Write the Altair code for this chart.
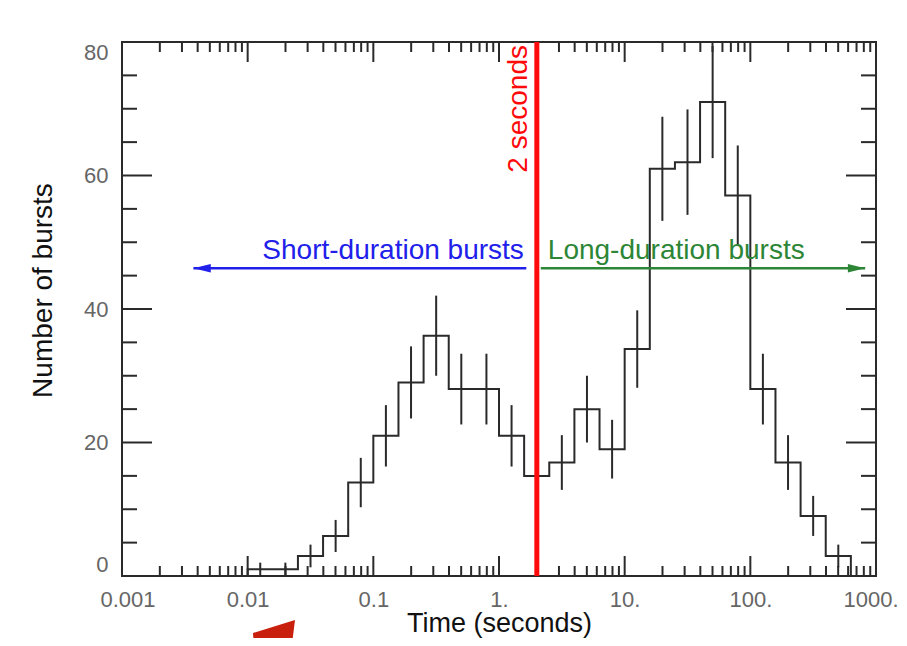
import json
import altair as alt
import pandas as pd

# ---------------- data ----------------
BIN_LEFT_LOG = [-3.0, -2.8, -2.6, -2.4, -2.2, -2.0, -1.8, -1.6, -1.4, -1.2,
                -1.0, -0.8, -0.6, -0.4, -0.2, 0.0, 0.2, 0.4, 0.6, 0.8,
                1.0, 1.2, 1.4, 1.6, 1.8, 2.0, 2.2, 2.4, 2.6, 2.8]
BIN_LAST_RIGHT_LOG = 3.0
COUNTS = [0, 0, 0, 0, 0, 1, 1, 3, 6, 14,
          21, 29, 36, 28, 28, 21, 15, 17, 25, 19,
          34, 61, 62, 71, 57, 28, 17, 9, 3, 0]
ERRORS = [0, 0, 0, 0, 0, 1, 1, 1.7, 2.4, 3.7,
          4.6, 5.4, 6.0, 5.3, 5.3, 4.6, 3.9, 4.1, 5.0, 4.4,
          5.8, 7.8, 7.9, 8.4, 7.5, 5.3, 4.1, 3.0, 1.7, 0]

X_TICKS = [0.001, 0.01, 0.1, 1, 10, 100, 1000]
X_LABELS = ["0.001", "0.01", "0.1", "1.", "10.", "100.", "1000."]
X_MINOR_MULT = [2, 3, 4, 5, 6, 7, 8, 9]
Y_TICKS = [0, 20, 40, 60, 80]
Y_MINOR = [5, 10, 15, 25, 30, 35, 45, 50, 55, 65, 70, 75]

DIVIDE_X = 2.0
ARROW_Y = 46.1
SHORT_ARROW_X = [1.65, 0.0037]   # start, tip
LONG_ARROW_X = [2.15, 820.0]     # start, tip

# ---------------- styling ----------------
W, H = 754, 534
FONT = "Liberation Sans"
INK = "#2a2a2a"
BLUE = "#2020ea"
GREEN = "#2d8636"
RED = "#ff0a0a"

xscale = alt.Scale(type="log", domain=[0.001, 1000], nice=False)
yscale = alt.Scale(domain=[0, 80], nice=False, zero=False)

label_expr = f"{json.dumps(X_LABELS)}[round(log(datum.value)/LN10)+3]"

x_axis = alt.Axis(values=X_TICKS, labelExpr=label_expr, ticks=False, tickSize=0,
                  domain=False, grid=False, labelFont=FONT, labelFontSize=22,
                  labelColor="#666666", labelPadding=13, labelFlush=True,
                  labelFlushOffset=22,
                  title="Time (seconds)", titleFont=FONT, titleFontSize=27,
                  titleFontWeight="normal", titleColor="#111111",
                  titleY=61, titleBaseline="bottom")
y_axis = alt.Axis(values=Y_TICKS, ticks=False, tickSize=0, domain=False, grid=False,
                  labelFont=FONT, labelFontSize=22, labelColor="#666666",
                  labelPadding=14, labelFlush=True,
                  title="Number of bursts", titleFont=FONT, titleFontSize=28,
                  titleFontWeight="normal", titleColor="#111111",
                  titleX=-79, titleY=248, titleAngle=270, titleAlign="center",
                  titleBaseline="middle")


def X():
    return alt.X("x:Q", scale=xscale, axis=x_axis, title="Time (seconds)")


def Y():
    return alt.Y("y:Q", scale=yscale, axis=y_axis, title="Number of bursts")


# step histogram
step_x = [10 ** e for e in BIN_LEFT_LOG] + [10 ** BIN_LAST_RIGHT_LOG]
step_y = COUNTS + [0]
step_df = pd.DataFrame({"x": step_x, "y": step_y, "o": list(range(len(step_x)))})

hist = alt.Chart(step_df).mark_line(interpolate="step-after", color=INK,
                                    strokeWidth=2).encode(
    x=X(), y=Y(), order="o:Q")

# error bars
err_rows = [
    {"x": 10 ** (e + 0.1), "y": c - s, "y2": c + s}
    for e, c, s in zip(BIN_LEFT_LOG, COUNTS, ERRORS) if c > 0
]
err_df = pd.DataFrame(err_rows)
errs = alt.Chart(err_df).mark_rule(color=INK, strokeWidth=2).encode(
    x=X(), y=Y(), y2="y2:Q")

# tick marks on all four sides
x_major_df = pd.DataFrame({"x": X_TICKS})
x_minor_df = pd.DataFrame({"x": [t * m for t in X_TICKS[:-1] for m in X_MINOR_MULT]})
y_major_df = pd.DataFrame({"y": Y_TICKS})
y_minor_df = pd.DataFrame({"y": Y_MINOR})


def xticks(df, y0, y1):
    return alt.Chart(df).mark_rule(color=INK, strokeWidth=2).encode(
        x=X(), y=alt.value(y0), y2=alt.value(y1))


def yticks(df, x0, x1):
    return alt.Chart(df).mark_rule(color=INK, strokeWidth=2).encode(
        y=Y(), x=alt.value(x0), x2=alt.value(x1))


ticks = [
    xticks(x_major_df, H, H - 20), xticks(x_minor_df, H, H - 10),
    xticks(x_major_df, 0, 20), xticks(x_minor_df, 0, 10),
    yticks(y_major_df, 0, 30), yticks(y_minor_df, 0, 15),
    yticks(y_major_df, W, W - 30), yticks(y_minor_df, W, W - 15),
]

# red divider at 2 seconds
div_df = pd.DataFrame({"x": [DIVIDE_X], "y": [80]})
divider = alt.Chart(div_df).mark_rule(color=RED, strokeWidth=5).encode(
    x=X(), y=alt.value(0), y2=alt.value(H))
div_text = alt.Chart(div_df).mark_text(
    text="2 seconds", angle=270, align="right", baseline="bottom",
    dx=-3, dy=-4, color=RED, font=FONT, fontSize=28).encode(x=X(), y=Y())

# arrows
short_df = pd.DataFrame({"x": SHORT_ARROW_X, "y": [ARROW_Y, ARROW_Y]})
long_df = pd.DataFrame({"x": LONG_ARROW_X, "y": [ARROW_Y, ARROW_Y]})
short_line = alt.Chart(short_df).mark_line(color=BLUE, strokeWidth=2.5).encode(x=X(), y=Y())
long_line = alt.Chart(long_df).mark_line(color=GREEN, strokeWidth=2.5).encode(x=X(), y=Y())
short_head = alt.Chart(short_df.iloc[[1]]).mark_point(
    shape="M 0 0 L 2 -0.5 L 2 0.5 Z", filled=True, size=300, color=BLUE,
    opacity=1).encode(x=X(), y=Y())
long_head = alt.Chart(long_df.iloc[[1]]).mark_point(
    shape="M 0 0 L -2 -0.5 L -2 0.5 Z", filled=True, size=300, color=GREEN,
    opacity=1).encode(x=X(), y=Y())

lbl_df = pd.DataFrame({"x": [DIVIDE_X], "y": [ARROW_Y]})
short_text = alt.Chart(lbl_df).mark_text(
    text="Short-duration bursts", align="right", baseline="alphabetic",
    dx=-13, dy=-9, color=BLUE, font=FONT, fontSize=28).encode(x=X(), y=Y())
long_text = alt.Chart(lbl_df).mark_text(
    text="Long-duration bursts", align="left", baseline="alphabetic",
    dx=11, dy=-9, color=GREEN, font=FONT, fontSize=28).encode(x=X(), y=Y())

# decorative red slide arrow peeking in at the bottom
deco_df = pd.DataFrame({"k": [0]})
deco = alt.Chart(deco_df).mark_point(
    shape="M 0 0 L -42 13 L -40 40 L -5 40 Z", filled=True, size=4,
    color="#c8200c", opacity=1).encode(x=alt.value(173), y=alt.value(578))

chart = alt.layer(
    hist, *ticks, errs, divider, div_text,
    short_line, long_line, short_head, long_head, short_text, long_text, deco
).properties(
    width=W, height=H,
    padding={"left": 114, "top": 34, "right": 23, "bottom": 62},
    autosize=alt.AutoSizeParams(type="none"),
    background="white",
).configure_view(
    stroke=INK, strokeWidth=2
)

chart.save("out.html", embed_options={"renderer": "svg", "actions": False})
